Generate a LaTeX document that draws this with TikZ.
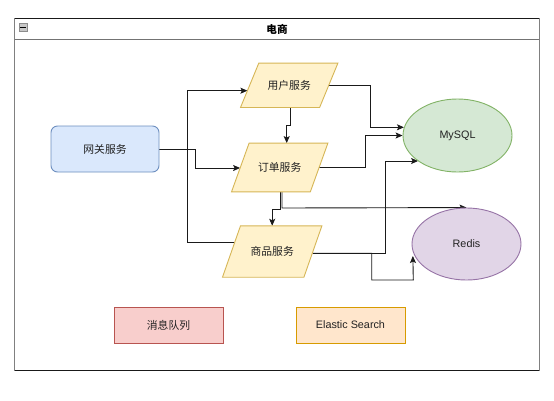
\documentclass[tikz,border=0pt]{standalone}
\usepackage{fontspec}
\setmainfont{Liberation Sans}
\newfontfamily\cjk{Noto Sans CJK SC}
\usetikzlibrary{arrows.meta,calc,shapes.geometric}
\pgfdeclarelayer{edgelayer}
\pgfdeclarelayer{shapelayer}
\pgfsetlayers{edgelayer,shapelayer,main}
\definecolor{txt}{HTML}{222222}
\definecolor{gwfill}{HTML}{DAE8FC}\definecolor{gwdraw}{HTML}{6C8EBF}
\definecolor{pfill}{HTML}{FFF2CC}\definecolor{pdraw}{HTML}{D6B656}
\definecolor{myfill}{HTML}{D5E8D4}\definecolor{mydraw}{HTML}{82B366}
\definecolor{rdfill}{HTML}{E1D5E7}\definecolor{rddraw}{HTML}{9673A6}
\definecolor{mqfill}{HTML}{F8CECC}\definecolor{mqdraw}{HTML}{B85450}
\definecolor{esfill}{HTML}{FFE6CC}\definecolor{esdraw}{HTML}{D79B00}
\definecolor{edge}{HTML}{1A1A1A}
\tikzset{
  lbl/.style={font=\fontsize{10.8}{13}\selectfont, text=txt, inner sep=0pt},
  gwbox/.style={lbl, draw=gwdraw, fill=gwfill, rounded corners=6.5pt, line width=0.9pt},
  parabox/.style={lbl},
  parashape/.style={fill=pfill, draw=pdraw, line width=0.9pt, line join=miter},
  ellbox/.style={lbl, ellipse, line width=0.9pt},
  plainbox/.style={lbl, line width=0.9pt, minimum width=109pt, minimum height=36pt},
  conn/.style={draw=edge, line width=0.9pt, line join=miter},
  arr/.style={-{Stealth[length=7pt,width=6pt,inset=1.5pt]}}
}
\begin{document}
\begin{tikzpicture}[x=1pt,y=-1pt]
\useasboundingbox (0,0) rectangle (554,400);
% frame (swimlane)
\begin{pgfonlayer}{edgelayer}
  \fill[white] (14.7,18.3) rectangle (539,370);
  \draw[draw=black!50, line width=1pt] (14.7,18.3) rectangle (539,370);
  \draw[draw=black!90, line width=1pt] (14.7,18.3) -- (539,18.3);
  \draw[draw=black!90, line width=1pt] (14.7,370) -- (539,370);
  \draw[draw=black!55, line width=1pt] (14.7,39.3) -- (539,39.3);
\end{pgfonlayer}
\node[font=\cjk\bfseries\fontsize{10.6}{13}\selectfont, text=black, inner sep=0pt] (title) at (277,29) {电商};
\node[draw=black!45, fill=black!22, minimum size=7.4pt, inner sep=0pt] (collapse) at (23,27) {};
\draw[line width=1pt] ($(collapse.center)+(-2.6,0)$) -- ($(collapse.center)+(2.6,0)$);

% nodes
\node[gwbox, minimum width=108pt, minimum height=46pt] (g) at (105,149) {\cjk 网关服务};
\node[parabox, minimum width=97pt, minimum height=44pt] (u) at (289.2,85.3) {\cjk 用户服务};
\node[parabox, minimum width=96pt, minimum height=48.4pt] (o) at (279.7,167.5) {\cjk 订单服务};
\node[parabox, minimum width=99pt, minimum height=51pt] (p) at (272.2,251.5) {\cjk 商品服务};
\node[ellbox, draw=mydraw, fill=myfill, minimum width=109pt, minimum height=73pt] (m) at (457.5,135.5) {MySQL};
\node[ellbox, draw=rddraw, fill=rdfill, minimum width=109pt, minimum height=72pt] (r) at (466.5,244) {Redis};
\node[plainbox, draw=mqdraw, fill=mqfill] (q) at (168.5,325) {\cjk 消息队列};
\node[plainbox, draw=esdraw, fill=esfill] (e) at (350.5,325) {Elastic Search};

% parallelogram outlines
\begin{pgfonlayer}{shapelayer}
  \path[parashape] (u.south west) -- ([xshift=-18.3pt]u.south east) -- (u.north east) -- ([xshift=18.3pt]u.north west) -- cycle;
  \path[parashape] (o.south west) -- ([xshift=-17.6pt]o.south east) -- (o.north east) -- ([xshift=17.6pt]o.north west) -- cycle;
  \path[parashape] (p.south west) -- ([xshift=-18pt]p.south east) -- (p.north east) -- ([xshift=18pt]p.north west) -- cycle;
\end{pgfonlayer}

% connectors
\begin{pgfonlayer}{edgelayer}
  % gateway -> order
  \draw[conn,arr] (g.east) -- (195,149) |- ($(o.west)+(8.6,0.5)$);
  % product -> user
  \draw[conn,arr] ($(p.west)+(12.1,-8.8)$) -- (187,242.7) -- (187,90.7) -- ($(u.west)+(6.9,5.4)$);
  % user -> order
  \draw[conn,arr] ($(u.south)+(0.8,0)$) -- ++(0,18.4) -| ($(o.north)+(7,0)$);
  % user -> MySQL
  \draw[conn,arr] ($(u.east)+(-8.7,0.4)$) -- (370.7,85.7) |- ($(m.west)+(1.4,-8.2)$);
  % order -> MySQL
  \draw[conn,arr] ($(o.east)+(-8.5,0.2)$) -- (365.7,167.7) |- (m.west);
  % product -> MySQL
  \draw[conn,arr] ($(p.east)+(-9.4,1.8)$) -- (385.7,253.3) |- ($(m.west)+(15.5,25.5)$);
  % product -> Redis
  \draw[conn,arr] ($(p.east)+(-9.4,1.8)$) -- (371.7,253.3) -- (371.7,280) -- (413.3,280) -- ($(r.west)+(1.3,12)$);
  % order -> product
  \draw[conn,arr] ($(o.south)+(0.3,0)$) -- ++(0,17.6) -| (p.north);
  % order -> Redis
  \draw[conn,arr] ($(o.south)+(2.3,0)$) -- (282,208) -- (r.north);
\end{pgfonlayer}
\end{tikzpicture}
\end{document}
